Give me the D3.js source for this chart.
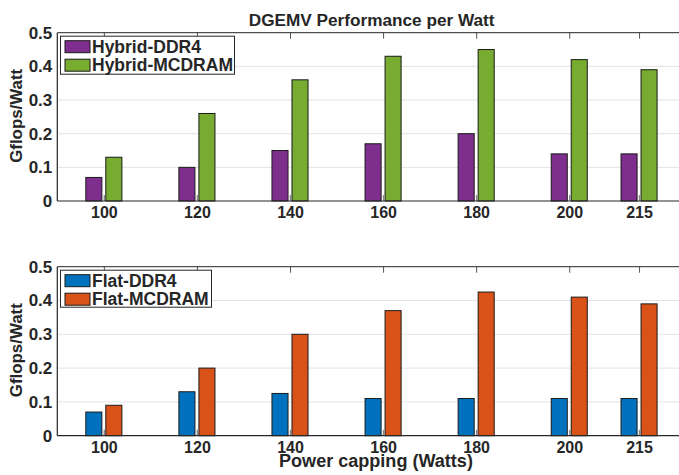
<!DOCTYPE html>
<html><head><meta charset="utf-8">
<script src="https://cdn.jsdelivr.net/npm/d3@7"></script>
<style>body{margin:0;background:#fff}svg{display:block}text{font-family:"Liberation Sans",Arial,Helvetica,sans-serif;font-weight:bold;fill:#262626}</style>
</head><body><svg id="c" width="679" height="475"></svg>
<script>
const powerCaps = [100, 120, 140, 160, 180, 200, 215];
const xTickLabels = ["100", "120", "140", "160", "180", "200", "215"];
const yTicks = [0, 0.1, 0.2, 0.3, 0.4, 0.5];
const yTickLabels = ["0", "0.1", "0.2", "0.3", "0.4", "0.5"];
const hybridDDR4 = [0.07, 0.10, 0.15, 0.17, 0.20, 0.14, 0.14];
const hybridMCDRAM = [0.13, 0.26, 0.36, 0.43, 0.45, 0.42, 0.39];
const flatDDR4 = [0.07, 0.13, 0.125, 0.11, 0.11, 0.11, 0.11];
const flatMCDRAM = [0.09, 0.20, 0.30, 0.37, 0.425, 0.41, 0.39];
const seriesNames = [["Hybrid-DDR4", "Hybrid-MCDRAM"], ["Flat-DDR4", "Flat-MCDRAM"]];
const colors = [["#7E2F8E", "#77AC30"], ["#0072BD", "#D95319"]];
const title = "DGEMV Performance per Watt";
const yLabel = "Gflops/Watt";
const xLabel = "Power capping (Watts)";

const svg = d3.select("#c");
const x = d3.scaleLinear().domain([90, 225]).range([57.3, 685.6]);
const barW = 3.45, off = 2.15; // in data units

function fit(sel, target, base) {
  const w = sel.node().getComputedTextLength();
  if (w > 0) sel.style("font-size", (base * target / w).toFixed(2) + "px");
  return sel;
}

function panel(top, bottom, vals1, vals2, names, cols, legH) {
  const y = d3.scaleLinear().domain([0, 0.5]).range([bottom, top]);
  const g = svg.append("g");
  g.selectAll(".grid").data(yTicks.slice(1, 5)).enter().append("line")
    .attr("x1", x(90)).attr("x2", 679).attr("y1", d => y(d)).attr("y2", d => y(d))
    .attr("stroke", "#e3e3e3").attr("stroke-width", 1);
  const data = powerCaps.map((p, i) => ({p, a: vals1[i], b: vals2[i]}));
  [["a", -off, cols[0]], ["b", off, cols[1]]].forEach(([k, o, c]) => {
    g.selectAll(".bar" + k).data(data).enter().append("rect")
      .attr("x", d => x(d.p + o - barW / 2)).attr("width", x(barW) - x(0))
      .attr("y", d => y(d[k])).attr("height", d => y(0) - y(d[k]))
      .attr("fill", c).attr("stroke", "#1a1a1a").attr("stroke-width", 1);
  });
  const xb = d3.axisBottom(x).tickValues(powerCaps).tickFormat((d, i) => xTickLabels[i]).tickSize(-6).tickPadding(5.5);
  const ax = g.append("g").attr("transform", `translate(0,${bottom})`).call(xb);
  ax.select(".domain").remove();
  ax.selectAll(".tick line").attr("stroke", "#8a8a8a").attr("stroke-width", 1.5);
  ax.selectAll(".tick text").style("font-size", "16px").attr("fill", "#262626");
  const xt = d3.axisTop(x).tickValues(powerCaps).tickFormat("").tickSize(-6);
  const at = g.append("g").attr("transform", `translate(0,${top})`).call(xt);
  at.select(".domain").remove();
  at.selectAll(".tick line").attr("stroke", "#555").attr("stroke-width", 1);
  const yl = d3.axisLeft(y).tickValues(yTicks).tickFormat((d, i) => yTickLabels[i]).tickSize(0).tickPadding(5);
  const ay = g.append("g").attr("transform", `translate(${x(90)},0)`).call(yl);
  ay.select(".domain").remove();
  ay.selectAll(".tick text").style("font-size", "17px").attr("fill", "#262626");
  g.append("line").attr("x1", x(90)).attr("x2", 679).attr("y1", top).attr("y2", top).attr("stroke", "#262626").attr("stroke-width", 1);
  g.append("line").attr("x1", x(90)).attr("x2", 679).attr("y1", bottom).attr("y2", bottom).attr("stroke", "#262626").attr("stroke-width", 1.2);
  g.append("line").attr("x1", x(90)).attr("x2", x(90)).attr("y1", top).attr("y2", bottom).attr("stroke", "#262626").attr("stroke-width", 1.2);
  const yt = g.append("text").attr("transform", `translate(22,${(top + bottom) / 2 - 1}) rotate(-90)`)
    .attr("text-anchor", "middle").style("font-size", "17px").text(yLabel);
  fit(yt, 94, 17);
  const lg = g.append("g").attr("transform", `translate(60.5,${top + 3.5})`);
  lg.append("rect").attr("width", legH[0]).attr("height", legH[1]).attr("fill", "#fff").attr("stroke", "#262626").attr("stroke-width", 1);
  names.forEach((n, i) => {
    lg.append("rect").attr("x", 4.5).attr("y", 4.5 + i * 18.5).attr("width", 25).attr("height", 12)
      .attr("fill", cols[i]).attr("stroke", "#1a1a1a").attr("stroke-width", 1);
    lg.append("text").attr("x", 31.5).attr("y", 16.8 + i * 18.5).style("font-size", "17.5px").text(n);
  });
}

panel(32.7, 201, hybridDDR4, hybridMCDRAM, seriesNames[0], colors[0], [174, 38]);
panel(266.7, 435.7, flatDDR4, flatMCDRAM, seriesNames[1], colors[1], [151, 37]);

const tt = svg.append("text").attr("x", 371.7).attr("y", 25.7).attr("text-anchor", "middle").style("font-size", "17px").text(title);
fit(tt, 246, 17);
const xt2 = svg.append("text").attr("x", 376).attr("y", 467).attr("text-anchor", "middle").style("font-size", "18px").text(xLabel);
fit(xt2, 194, 18);
</script></body></html>
